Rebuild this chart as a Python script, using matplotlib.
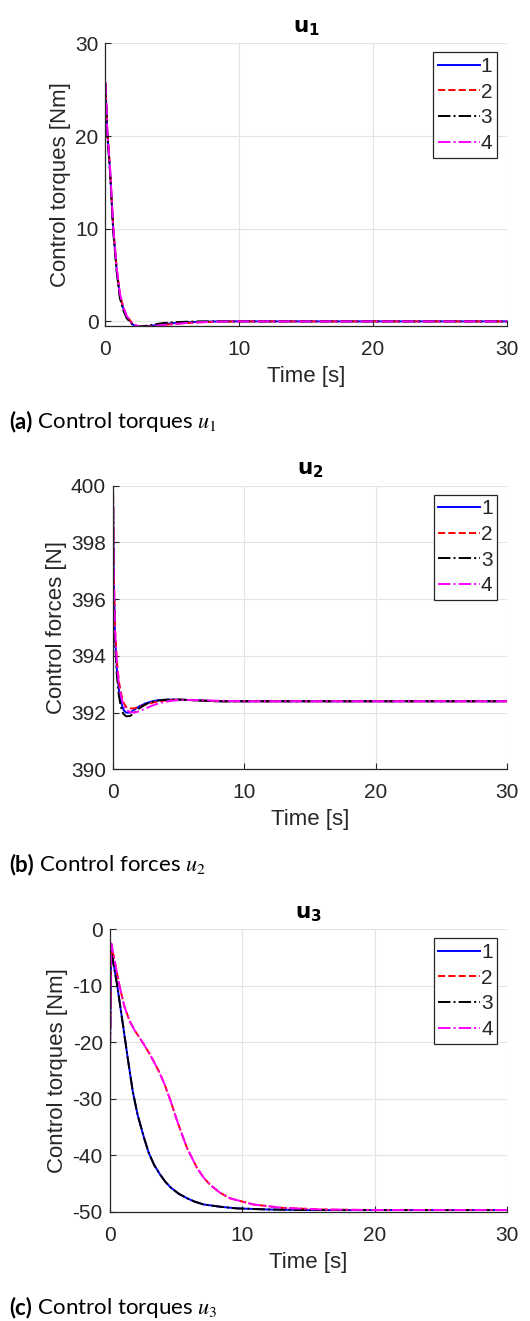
import matplotlib
matplotlib.use("Agg")
import matplotlib.pyplot as plt

plt.rcParams["axes.unicode_minus"] = False

# ---- data ----
labels = ["1", "2", "3", "4"]
colors = ["#0000ff", "#ff0000", "#000000", "#ff00ff"]
styles = ["-", "--", "-.", "-."]

# u1 : control torques [Nm]
t_u1 = [0, 0.13, 0.34, 0.58, 0.84, 1.08, 1.33, 1.58, 2.08, 2.6, 3.0, 3.5, 4.2, 5.0, 6.0, 7.0, 8.5, 10, 15, 30]
u1_1 = [25.7, 20.6, 16.3, 9.9, 5.5, 2.7, 1.4, 0.5, -0.4, -0.58, -0.55, -0.45, -0.32, -0.2, -0.1, -0.05, 0, 0, 0, 0]
u1_2 = [25.7, 20.7, 16.5, 10.1, 5.7, 2.9, 1.5, 0.6, -0.35, -0.58, -0.58, -0.52, -0.4, -0.3, -0.18, -0.1, -0.03, 0, 0, 0]
u1_3 = [25.6, 20.4, 16.1, 9.7, 5.3, 2.5, 1.2, 0.35, -0.45, -0.55, -0.48, -0.36, -0.2, -0.1, -0.04, 0, 0, 0, 0, 0]
u1_4 = [25.8, 20.8, 16.6, 10.2, 5.8, 3.0, 1.6, 0.6, -0.35, -0.58, -0.58, -0.52, -0.4, -0.3, -0.18, -0.1, -0.03, 0, 0, 0]

# u2 : control forces [N]
t_u2 = [0, 0.05, 0.15, 0.3, 0.45, 0.6, 0.8, 1.0, 1.3, 1.6, 2.0, 2.5, 3.0, 3.5, 4.2, 5.0, 6.0, 8.0, 10, 30]
u2_1 = [400, 397.0, 394.7, 393.5, 392.8, 392.4, 392.1, 392.0, 392.0, 392.1, 392.22, 392.33, 392.4, 392.44, 392.46, 392.46, 392.44, 392.4, 392.4, 392.4]
u2_2 = [400, 397.2, 395.0, 393.8, 393.1, 392.7, 392.35, 392.2, 392.15, 392.15, 392.2, 392.28, 392.35, 392.4, 392.44, 392.46, 392.44, 392.4, 392.4, 392.4]
u2_3 = [400, 396.8, 394.5, 393.3, 392.6, 392.2, 391.95, 391.87, 391.88, 391.98, 392.15, 392.3, 392.38, 392.43, 392.46, 392.46, 392.44, 392.4, 392.4, 392.4]
u2_4 = [400, 397.1, 394.9, 393.7, 393.0, 392.6, 392.25, 392.1, 392.02, 392.0, 392.05, 392.15, 392.25, 392.33, 392.4, 392.44, 392.45, 392.42, 392.4, 392.4]

# u3 : control torques [Nm]
t_u3a = [0, 0.12, 0.57, 1.0, 1.19, 1.36, 1.74, 2.1, 2.6, 2.95, 3.35, 3.8, 4.2, 4.6, 5.2, 5.83, 6.4, 7.07, 8.3, 9.55, 12, 15, 30]
u3_1 = [-25, -3.6, -10, -16.9, -20, -22.8, -28.7, -32.8, -37, -39.6, -41.7, -43.4, -44.7, -45.7, -46.8, -47.6, -48.2, -48.7, -49.1, -49.4, -49.6, -49.7, -49.7]
u3_3 = [-25, -3.8, -10, -16.9, -20, -22.8, -28.7, -32.8, -37, -39.6, -41.7, -43.4, -44.7, -45.7, -46.8, -47.6, -48.2, -48.7, -49.1, -49.4, -49.6, -49.7, -49.7]
t_u3b = [0, 0.12, 0.74, 1.1, 1.5, 1.86, 2.48, 3.0, 3.35, 3.7, 4.1, 4.6, 5.1, 5.83, 6.58, 7.1, 7.57, 8.3, 9.06, 10.8, 13, 16, 20, 30]
u3_2 = [-24.9, -2.6, -10, -13.6, -16.2, -17.8, -20, -22.0, -23.5, -25.1, -27.2, -30.4, -34.0, -38.7, -42.2, -44.0, -45.2, -46.6, -47.6, -48.7, -49.3, -49.6, -49.7, -49.7]
u3_4 = [-24.9, -2.5, -10, -13.6, -16.2, -17.8, -20, -22.0, -23.5, -25.1, -27.2, -30.4, -34.0, -38.7, -42.2, -44.0, -45.2, -46.6, -47.6, -48.7, -49.3, -49.6, -49.7, -49.7]

panels = [
    dict(t=[t_u1] * 4, ys=[u1_1, u1_2, u1_3, u1_4], title=r"$\mathbf{u_1}$",
         ylabel="Control torques [Nm]", ylim=(-0.5, 30), yticks=[0, 10, 20, 30],
         caption_b="(a)", caption=r" Control torques $u_1$",
         rect=[0.199, 0.7532, 0.7575, 0.214], cap_y=1 - 422 / 1321),
    dict(t=[t_u2] * 4, ys=[u2_1, u2_2, u2_3, u2_4], title=r"$\mathbf{u_2}$",
         ylabel="Control forces [N]", ylim=(390, 400), yticks=[390, 392, 394, 396, 398, 400],
         caption_b="(b)", caption=r" Control forces $u_2$",
         rect=[0.2132, 0.4176, 0.7434, 0.2147], cap_y=1 - 865 / 1321),
    dict(t=[t_u3a, t_u3b, t_u3a, t_u3b], ys=[u3_1, u3_2, u3_3, u3_4], title=r"$\mathbf{u_3}$",
         ylabel="Control torques [Nm]", ylim=(-50, 0), yticks=[-50, -40, -30, -20, -10, 0],
         caption_b="(c)", caption=r" Control torques $u_3$",
         rect=[0.2070, 0.0827, 0.7500, 0.2138], cap_y=1 - 1308 / 1321),
]

fig = plt.figure(figsize=(5.30, 13.21), dpi=100)
fig.patch.set_facecolor("white")
txt = "#262626"
sans = ["Liberation Sans", "DejaVu Sans"]
capfont = ["Lato", "DejaVu Sans"]

for p in panels:
    ax = fig.add_axes(p["rect"])
    for t, y, c, ls, lab in zip(p["t"], p["ys"], colors, styles, labels):
        ax.plot(t, y, color=c, linestyle=ls, linewidth=1.4, label=lab)
    ax.set_xlim(0, 30)
    ax.set_ylim(*p["ylim"])
    ax.set_xticks([0, 10, 20, 30])
    ax.set_yticks(p["yticks"])
    ax.grid(True, color="#e3e3e3", linewidth=0.8)
    ax.set_axisbelow(True)
    for s in ["top", "right"]:
        ax.spines[s].set_visible(False)
    for s in ["left", "bottom"]:
        ax.spines[s].set_color(txt)
        ax.spines[s].set_linewidth(0.9)
    ax.tick_params(direction="in", length=4, width=0.8, colors=txt, labelsize=15)
    ax.tick_params(axis="x", pad=10)
    ax.tick_params(axis="y", pad=5)
    for lbl in ax.get_xticklabels() + ax.get_yticklabels():
        lbl.set_family(sans)
    ax.set_xlabel("Time [s]", fontsize=16, color=txt, family=sans, labelpad=5)
    ax.set_ylabel(p["ylabel"], fontsize=16, color=txt, family=sans, labelpad=3)
    ax.set_title(p["title"], fontsize=15.5, color="black", pad=8, math_fontfamily="dejavusans")
    leg = ax.legend(loc="upper right", bbox_to_anchor=(0.975, 0.968),
                    handlelength=2.0, handletextpad=0.05, labelspacing=0.32,
                    borderpad=0.22, borderaxespad=0.0, fancybox=False, framealpha=1,
                    prop={"family": sans, "size": 15})
    leg.get_frame().set_edgecolor(txt)
    leg.get_frame().set_linewidth(0.9)
    for tx in leg.get_texts():
        tx.set_color(txt)
    bold = fig.text(0.017, p["cap_y"], p["caption_b"], fontsize=16, fontweight="bold",
                    family=capfont, ha="left", va="center")
    fig.canvas.draw()
    ax.annotate(p["caption"], xy=(1, 0.5), xycoords=bold, fontsize=16, family=capfont,
                ha="left", va="center", math_fontfamily="stix", annotation_clip=False)

fig.savefig("out.png", dpi=100)
